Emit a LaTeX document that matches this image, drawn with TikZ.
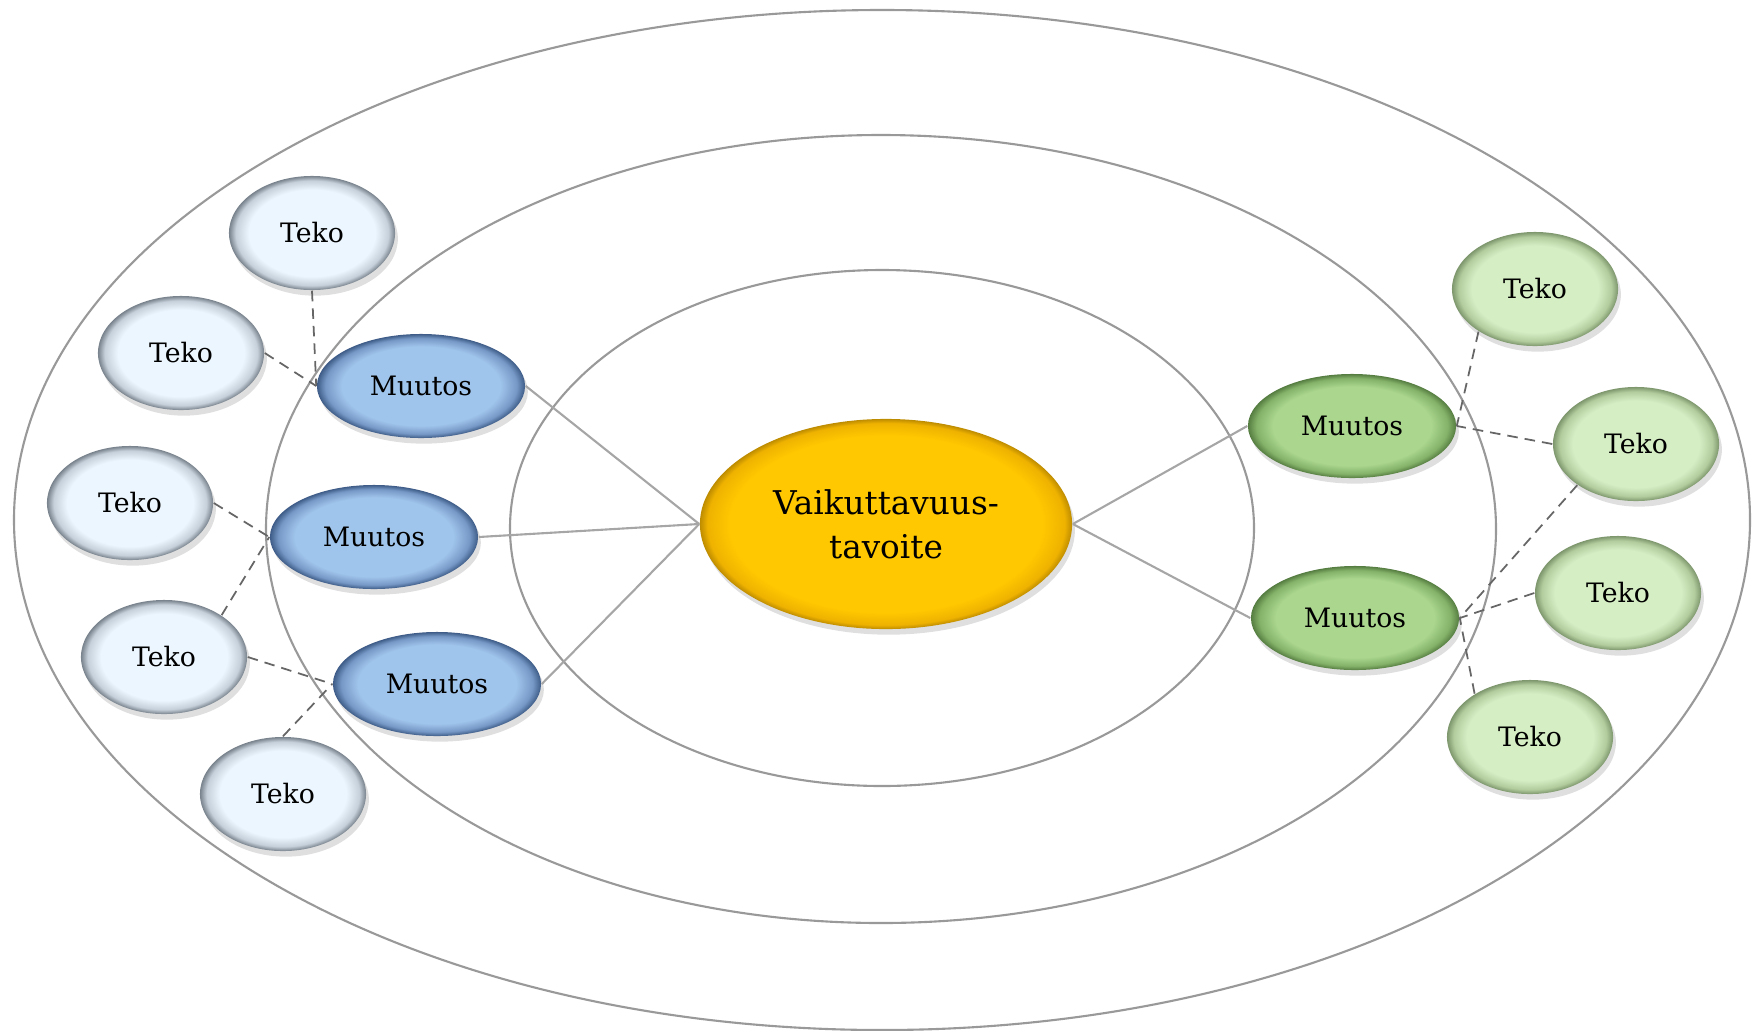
\documentclass[tikz,border=0pt]{standalone}
\usepackage{fontspec}
\setmainfont{DejaVu Serif}
\usepackage{tikz}
\usetikzlibrary{shapes.geometric,shadows}

\definecolor{bmIn}{RGB}{160,197,236}
\definecolor{bmMid}{RGB}{118,152,198}
\definecolor{bmOut}{RGB}{62,92,135}
\definecolor{btIn}{RGB}{236,246,254}
\definecolor{btMid}{RGB}{198,208,218}
\definecolor{btOut}{RGB}{120,130,140}
\definecolor{gmIn}{RGB}{170,214,142}
\definecolor{gmMid}{RGB}{132,178,105}
\definecolor{gmOut}{RGB}{85,125,65}
\definecolor{gtIn}{RGB}{214,238,196}
\definecolor{gtMid}{RGB}{178,204,158}
\definecolor{gtOut}{RGB}{125,150,108}
\definecolor{yIn}{RGB}{255,200,0}
\definecolor{yMid}{RGB}{238,178,0}
\definecolor{yOut}{RGB}{190,140,0}

% edge of the path sits at 25bp
\pgfdeclareradialshading{shBM}{\pgfpoint{0bp}{0bp}}{color(0bp)=(bmIn);color(19bp)=(bmIn);color(23bp)=(bmMid);color(25bp)=(bmOut);color(50bp)=(bmOut)}
\pgfdeclareradialshading{shBT}{\pgfpoint{0bp}{0bp}}{color(0bp)=(btIn);color(19bp)=(btIn);color(23bp)=(btMid);color(25bp)=(btOut);color(50bp)=(btOut)}
\pgfdeclareradialshading{shGM}{\pgfpoint{0bp}{0bp}}{color(0bp)=(gmIn);color(19bp)=(gmIn);color(23bp)=(gmMid);color(25bp)=(gmOut);color(50bp)=(gmOut)}
\pgfdeclareradialshading{shGT}{\pgfpoint{0bp}{0bp}}{color(0bp)=(gtIn);color(19bp)=(gtIn);color(23bp)=(gtMid);color(25bp)=(gtOut);color(50bp)=(gtOut)}
\pgfdeclareradialshading{shY}{\pgfpoint{0bp}{0bp}}{color(0bp)=(yIn);color(21bp)=(yIn);color(24bp)=(yMid);color(25bp)=(yOut);color(50bp)=(yOut)}

\tikzset{
  ring/.style={draw=black!40, line width=0.6pt},
  link/.style={draw=black!35, line width=0.6pt},
  sublink/.style={draw=black!60, densely dashed, line width=0.5pt},
  bubble/.style={ellipse, inner sep=0pt, shade,
    drop shadow={opacity=0.25, shadow xshift=0.8pt, shadow yshift=-1.6pt}},
  goal/.style={bubble, shading=shY, minimum width=3.72cm, minimum height=2.1cm,
    align=center, font=\fontsize{9.3}{12.5}\selectfont},
  muutosB/.style={bubble, shading=shBM, minimum width=2.08cm, minimum height=1.04cm,
    font=\fontsize{7.6}{10}\selectfont},
  tekoB/.style={bubble, shading=shBT, minimum width=1.66cm, minimum height=1.14cm,
    font=\fontsize{7.6}{10}\selectfont},
  muutosG/.style={muutosB, shading=shGM},
  tekoG/.style={tekoB, shading=shGT}
}

\begin{document}
\begin{tikzpicture}[x=0.01cm, y=-0.01cm]
\useasboundingbox (0,0) rectangle (1752,1030);

% rings
\draw[ring] (882,520) ellipse [x radius=868, y radius=510];
\draw[ring] (881,529) ellipse [x radius=615, y radius=394];
\draw[ring] (882,528) ellipse [x radius=372, y radius=258];

% goal
\node[goal] (goal) at (886,524) {Vaikuttavuus-\\tavoite};

% left side
\node[muutosB] (m1) at (421,386) {Muutos};
\node[muutosB] (m2) at (374,537) {Muutos};
\node[muutosB] (m3) at (437,684) {Muutos};
\node[tekoB] (t1) at (312,233) {Teko};
\node[tekoB] (t2) at (181,353) {Teko};
\node[tekoB] (t3) at (130,503) {Teko};
\node[tekoB] (t4) at (164,657) {Teko};
\node[tekoB] (t5) at (283,794) {Teko};

% right side
\node[muutosG] (gm1) at (1352,426) {Muutos};
\node[muutosG] (gm2) at (1355,618) {Muutos};
\node[tekoG] (gt1) at (1535,289) {Teko};
\node[tekoG] (gt2) at (1636,444) {Teko};
\node[tekoG] (gt3) at (1618,593) {Teko};
\node[tekoG] (gt4) at (1530,737) {Teko};

% connectors
\draw[link] (goal.west) -- (m1.east);
\draw[link] (goal.west) -- (m2.east);
\draw[link] (goal.west) -- (m3.east);
\draw[link] (goal.east) -- (gm1.west);
\draw[link] (goal.east) -- (gm2.west);

\draw[sublink] (t1.south) -- (m1.west);
\draw[sublink] (t2.east) -- (m1.west);
\draw[sublink] (t3.east) -- (m2.west);
\draw[sublink] (t4.36) -- (m2.west);
\draw[sublink] (t4.east) -- (m3.west);
\draw[sublink] (t5.north) -- (m3.west);
\draw[sublink] (gt1.217) -- (gm1.east);
\draw[sublink] (gt2.west) -- (gm1.east);
\draw[sublink] (gt2.215) -- (gm2.east);
\draw[sublink] (gt3.west) -- (gm2.east);
\draw[sublink] (gt4.142) -- (gm2.east);
\end{tikzpicture}
\end{document}
